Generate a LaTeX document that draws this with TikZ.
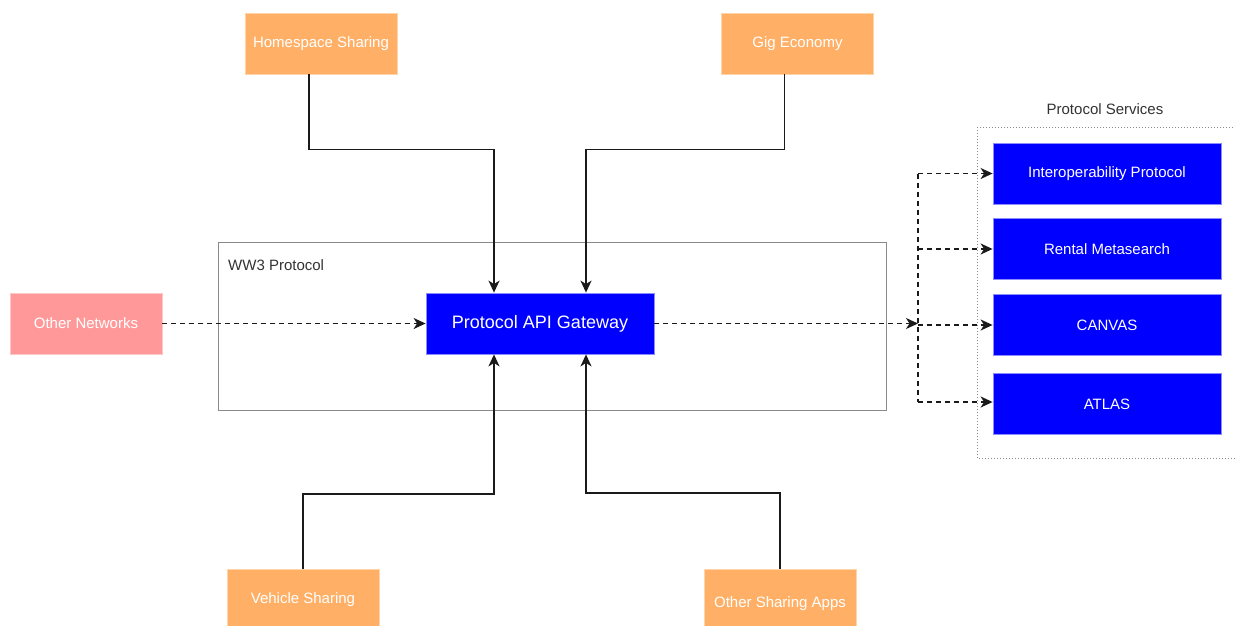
\documentclass[tikz,border=0pt]{standalone}
\usepackage{fontspec}
\setmainfont{Liberation Sans}
\usetikzlibrary{arrows.meta,calc}
\definecolor{orangefill}{HTML}{FFB066}
\definecolor{orangeline}{HTML}{FFD4A8}
\definecolor{pinkfill}{HTML}{FF9999}
\definecolor{pinkline}{HTML}{FFC8C8}
\definecolor{bluefill}{HTML}{0000FF}
\definecolor{blueline}{HTML}{8C8CFF}
\definecolor{framegray}{HTML}{8A8A8A}
\definecolor{labelgray}{HTML}{333333}
\definecolor{linegray}{HTML}{1A1A1A}
\tikzset{
  box/.style={rectangle, minimum width=152pt, minimum height=61pt, inner sep=0pt,
    text=white, font=\fontsize{15}{18}\selectfont, line width=0.8pt},
  obox/.style={box, fill=orangefill, draw=orangeline},
  pbox/.style={box, fill=pinkfill, draw=pinkline},
  bbox/.style={box, fill=bluefill, draw=blueline, minimum width=228pt},
  gwbox/.style={bbox, font=\fontsize{18}{21}\selectfont},
  tip/.style={-{Stealth[length=12pt,width=11pt,inset=3.5pt]}},
  conn/.style={draw=linegray, line width=1.6pt, tip},
  dconn/.style={draw=linegray, line width=1.6pt, dash pattern=on 5pt off 4pt, tip},
  dline/.style={draw=linegray, line width=1.6pt, dash pattern=on 5pt off 4pt},
  framelabel/.style={text=labelgray, font=\fontsize{15}{18}\selectfont, inner sep=0pt},
}
\begin{document}
\begin{tikzpicture}[x=1pt,y=-1pt]
\useasboundingbox (0,0) rectangle (1235,625);
\clip (0,0) rectangle (1235,625);
\fill[white] (0,0) rectangle (1235,625);

% frames
\draw[framegray, line width=1pt] (218,242) rectangle (886,410);
\node[framelabel, anchor=west] (ww3) at (228,265) {WW3 Protocol};
\draw[framegray, line width=1pt, dotted] (977,127) rectangle (1245,458);
\node[framelabel] (pslabel) at (1105,109) {Protocol Services};

% nodes
\node[obox] (home) at (321,43.5) {Homespace Sharing};
\node[obox] (gig) at (797.5,43.5) {Gig Economy};
\node[pbox] (other) at (86,323.5) {Other Networks};
\node[gwbox] (gw) at (540,323.5) {Protocol API Gateway};
\node[obox] (veh) at (303,600) {Vehicle Sharing};
\node[obox, text height=14pt, text depth=-2pt] (osa) at (780,600) {Other Sharing Apps};

\node[bbox] (s1) at (1107,173.5) {Interoperability Protocol};
\node[bbox] (s2) at (1107,249) {Rental Metasearch};
\node[bbox] (s3) at (1107,325) {CANVAS};
\node[bbox] (s4) at (1107,404) {ATLAS};

% solid connectors
\draw[conn] ([xshift=-12pt]home.south) -- ++(0,75) -| ([xshift=-46pt]gw.north);
\draw[conn] ([xshift=-13pt]gig.south) -- ++(0,75) -| ([xshift=46pt]gw.north);
\draw[conn] (veh.north) -- ++(0,-75) -| ([xshift=-46pt]gw.south);
\draw[conn] (osa.north) -- ++(0,-76) -| ([xshift=46pt]gw.south);

% dashed connectors
\draw[dconn] (other.east) -- (gw.west);
\coordinate (j) at (918,323.5);
\draw[dconn] (gw.east) -- (j);
\draw[dline] (j |- s1.west) -- (j |- 0,402);
\draw[dconn] (j |- s1.west) -- (s1.west);
\draw[dconn] (j |- s2.west) -- (s2.west);
\draw[dconn] (j |- s3.west) -- (s3.west);
\draw[dconn] (j |- 0,402) -- (s4.west |- 0,402);
\end{tikzpicture}
\end{document}
